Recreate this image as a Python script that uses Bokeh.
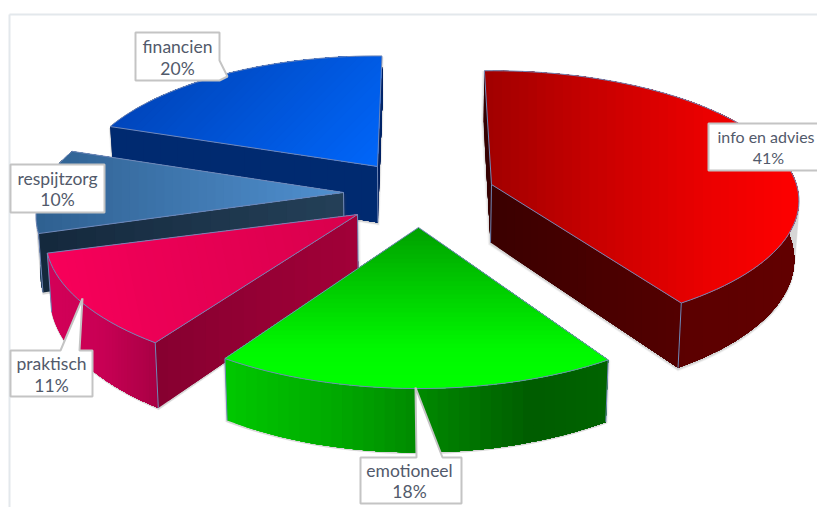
import math
from bokeh.plotting import figure, ColumnDataSource
from bokeh.models import Range1d
from bokeh.core.properties import value
from bokeh.embed import file_html
from bokeh.resources import INLINE

# --- data ---
categories = ["info en advies", "emotioneel", "praktisch", "respijtzorg", "financien"]
shares = [41, 18, 11, 10, 20]

# --- layout of the exploded, perspective pie ---
APEX = {"info en advies": (491, 184), "emotioneel": (418, 227), "praktisch": (357, 214),
        "respijtzorg": (343, 192), "financien": (377, 166)}
# per slice: rotation (deg), radius, tilt height, perspective strength, slab depth
VIEW = {"info en advies": (-1.5, 305.0, 128.0, 0.125, 58.0),
        "emotioneel": (0.4, 306.0, 133.5, 0.171, 53.0),
        "praktisch": (2.0, 307.5, 133.5, 0.171, 56.0),
        "respijtzorg": (1.0, 303.0, 133.5, 0.171, 56.0),
        "financien": (1.0, 298.5, 129.5, 0.171, 56.0)}
CONV, CX0 = 0.012, 410.0

STYLE = {
    "info en advies": dict(top=((1, 0), [(0, "#a00000"), (.35, "#c80000"), (.7, "#ea0000"), (1, "#ff0000")]),
                           outer=((1, 0), [(0, "#500000"), (1, "#620000")]),
                           wall_end=((1, 0), [(0, "#3a0000"), (1, "#540000")]),
                           wall_start=((1, 0), [(0, "#300000"), (1, "#3a0000")])),
    "emotioneel": dict(top=((0, 1), [(0, "#00a000"), (.75, "#00f800"), (1, "#00ff00")]),
                       outer=((1, 0), [(0, "#00c800"), (.3, "#00a800"), (.5, "#008a00"), (.8, "#005c00"), (1, "#006400")]),
                       wall_end=((1, 0), [(0, "#004000"), (1, "#005000")]),
                       wall_start=((1, 0), [(0, "#004000"), (1, "#005000")])),
    "praktisch": dict(top=((1, -.2), [(0, "#f8005a"), (.3, "#ec0056"), (1, "#d8004c")]),
                      outer=((1, 0), [(0, "#d40058"), (.5, "#c80054"), (1, "#a80044")]),
                      wall_end=((1, 0), [(0, "#800030"), (1, "#800030")]),
                      wall_start=((1, 0), [(0, "#860030"), (1, "#a20038")])),
    "respijtzorg": dict(top=((1, 0), [(0, "#2f6090"), (1, "#5090d0")]),
                        outer=((1, 0), [(0, "#1c3a58"), (1, "#14283c")]),
                        wall_end=((1, 0), [(0, "#14283c"), (1, "#244058")]),
                        wall_start=((1, 0), [(0, "#14283c"), (1, "#244058")])),
    "financien": dict(top=((1, 1), [(0, "#0046bc"), (1, "#0066fa")]),
                      outer=((1, 0), [(0, "#001c58"), (1, "#002a70")]),
                      wall_end=((1, 0), [(0, "#001c58"), (1, "#002a70")]),
                      wall_start=((1, 0), [(0, "#002a70"), (1, "#002a70")])),
}
DRAW_ORDER = ["financien", "respijtzorg", "praktisch", "emotioneel", "info en advies"]
EDGE = "#7088b8"


def hex2rgb(c):
    return tuple(int(c[i:i + 2], 16) for i in (1, 3, 5))


def color_at(stops, t):
    for (a, ca), (b, cb) in zip(stops, stops[1:]):
        if t <= b:
            f = 0 if b == a else (t - a) / (b - a)
            ra, rb = hex2rgb(ca), hex2rgb(cb)
            return "#%02x%02x%02x" % tuple(round(x + (y - x) * f) for x, y in zip(ra, rb))
    return stops[-1][1]


def clip_from(poly, d, level):
    """Keep the part of poly where dot(p, d) >= level."""
    out = []
    for i, a in enumerate(poly):
        b = poly[(i + 1) % len(poly)]
        da = a[0] * d[0] + a[1] * d[1] - level
        db = b[0] * d[0] + b[1] * d[1] - level
        if da >= 0:
            out.append(a)
        if (da >= 0) != (db >= 0):
            f = da / (da - db)
            out.append((a[0] + (b[0] - a[0]) * f, a[1] + (b[1] - a[1]) * f))
    return out


def add_gradient(store, poly, spec, bands=36):
    d, stops = spec
    n = math.hypot(*d)
    d = (d[0] / n, d[1] / n)
    vals = [p[0] * d[0] + p[1] * d[1] for p in poly]
    lo, hi = min(vals), max(vals)
    for i in range(bands):
        part = poly if i == 0 else clip_from(poly, d, lo + (hi - lo) * i / bands)
        if len(part) < 3:
            continue
        store["xs"].append([p[0] for p in part])
        store["ys"].append([p[1] for p in part])
        store["color"].append(color_at(stops, (i + .5) / bands))


def project(apex, deg, view):
    rot, radius, tilt, k, _ = view
    a = math.radians(deg + rot)
    X, Y = math.sin(a), -math.cos(a)
    s = 1 / (1 - k * Y)
    return apex[0] + radius * X * s, apex[1] + tilt * Y * s, s


def drop(pt, s, depth):
    return pt[0] - (pt[0] - CX0) * CONV, pt[1] + depth * s


def hull(points):
    pts = sorted(set(points))
    def half(seq):
        h = []
        for p in seq:
            while len(h) > 1 and (h[-1][0] - h[-2][0]) * (p[1] - h[-2][1]) - (h[-1][1] - h[-2][1]) * (p[0] - h[-2][0]) <= 0:
                h.pop()
            h.append(p)
        return h[:-1]
    return half(pts) + half(pts[::-1])


def shoelace(poly):
    return sum(a[0] * b[1] - b[0] * a[1] for a, b in zip(poly, poly[1:] + poly[:1]))


p = figure(width=817, height=507, output_backend="svg", toolbar_location=None,
           x_range=Range1d(0, 817), y_range=Range1d(507, 0), min_border=0,
           outline_line_color=None, background_fill_color="white", border_fill_color="white")
p.axis.visible = False
p.grid.visible = False

# frame of the picture
p.segment([9, 9], [14, 14], [817, 9], [14, 507], line_color="#e3e8ec", line_width=2)

# angular extents from the shares
ranges = {}
start = 0.0
for name, share in zip(categories, shares):
    ranges[name] = (start, start + share * 3.6)
    start += share * 3.6

for name in DRAW_ORDER:
    a0, a1 = ranges[name]
    apex = APEX[name]
    st = STYLE[name]
    view = VIEW[name]
    depth = view[4]
    steps = max(8, int((a1 - a0) / 2))
    arc = []
    for i in range(steps + 1):
        x, y, s = project(apex, a0 + (a1 - a0) * i / steps, view)
        arc.append(((x, y), s))
    top = [apex] + [q for q, _ in arc]
    bottom_arc = [drop(q, s, depth) for q, s in arc]
    apex_b = drop(apex, 1.0, depth)

    # soft shadow round the slab
    h = hull([(round(x, 2), round(y, 2)) for x, y in top + bottom_arc + [apex_b]])
    mx = sum(q[0] for q in h) / len(h)
    my = sum(q[1] for q in h) / len(h)
    for grow, alpha in ((1.012, .05), (1.008, .08), (1.004, .12)):
        p.patch([mx + (q[0] - mx) * grow for q in h], [my + (q[1] - my) * grow + 1.5 for q in h],
                fill_color="#555555", fill_alpha=alpha, line_color=None)

    store = dict(xs=[], ys=[], color=[])
    wall_s = [apex, top[1], bottom_arc[0], apex_b]
    wall_e = [apex, top[-1], bottom_arc[-1], apex_b]
    add_gradient(store, [q for q, _ in arc] + bottom_arc[::-1], st["outer"])
    show_s = shoelace(wall_s) < 0
    show_e = shoelace(wall_e) > 0
    if show_s:
        add_gradient(store, wall_s, st["wall_start"], bands=16)
    if show_e:
        add_gradient(store, wall_e, st["wall_end"], bands=24)
    add_gradient(store, top, st["top"])
    src = ColumnDataSource(store)
    p.patches("xs", "ys", source=src, fill_color="color", line_color=None)

    # thin bluish edges
    p.line([q[0] for q in top + [apex]], [q[1] for q in top + [apex]], line_color=EDGE, line_width=1)
    if show_s or show_e:
        p.line([apex[0], apex_b[0]], [apex[1], apex_b[1]], line_color=EDGE, line_width=1)
    for a, b in ((top[1], bottom_arc[0]), (top[-1], bottom_arc[-1])):
        if a[1] > apex[1]:
            p.line([a[0], b[0]], [a[1], b[1]], line_color=EDGE, line_width=1)

# data labels (callouts): outline, then two lines of text
CALLOUTS = {
    "financien": ([135, 219, 219, 227, 219, 135], [32, 32, 60, 76, 80, 80], 177, 177, 46, 68, 17.5),
    "respijtzorg": ([10, 104, 104, 10], [164, 164, 212, 212], 57, 57, 178, 199, 17.5),
    "praktisch": ([10, 60, 82, 79, 92, 92, 10], [350, 350, 298, 350, 350, 396, 396], 51, 51, 363, 385, 17.5),
    "emotioneel": ([360, 416, 415, 442, 461, 461, 360], [457, 457, 387, 457, 457, 503, 503], 409, 409, 470, 491, 17.5),
    "info en advies": ([708, 830, 830, 708], [123, 123, 170, 170], 765.5, 768, 136, 157, 16),
}
for name, share in zip(categories, shares):
    xs, ys, cx1, cx2, y1, y2, fs = CALLOUTS[name]
    p.patch(xs, ys, fill_color="white", line_color="#c4c4c4", line_width=2)
    p.text([cx1, cx2], [y1, y2], text=[name, f"{share}%"], text_align="center", text_baseline="middle",
           text_font=value("Lato"), text_font_size=f"{fs}px", text_color="#525a6b")

open("out.html", "w").write(file_html(p, INLINE))
